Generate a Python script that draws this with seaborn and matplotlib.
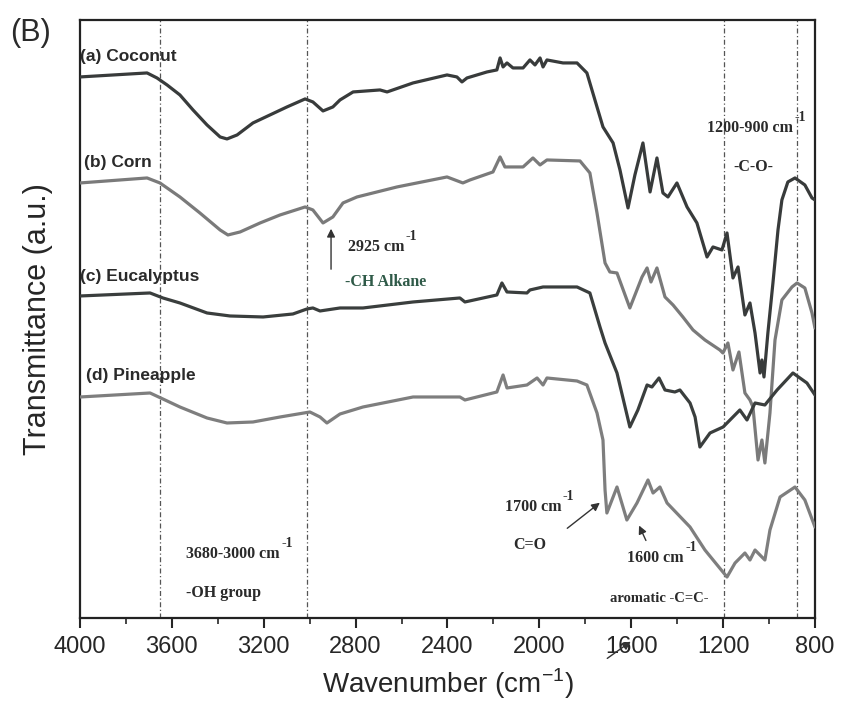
import pandas as pd
import matplotlib
matplotlib.use("Agg")
import matplotlib.pyplot as plt
import seaborn as sns

# FTIR spectra (wavenumber in cm-1, transmittance in a.u.)
coconut_wn = [4000, 3708, 3665, 3621, 3565, 3508, 3447, 3390, 3360, 3316, 3247, 3173, 3099, 3020,
              2986, 2942, 2899, 2868, 2811, 2694, 2663, 2550, 2402, 2359, 2337, 2315, 2228, 2185,
              2171, 2158, 2141, 2115, 2071, 2041, 2019, 1997, 1984, 1967, 1897, 1836, 1793, 1749,
              1723, 1679, 1649, 1614, 1584, 1549, 1518, 1488, 1462, 1440, 1401, 1357, 1314, 1270,
              1244, 1205, 1183, 1157, 1135, 1105, 1083, 1061, 1039, 1031, 1022, 1005, 983, 961,
              944, 918, 887, 844, 813, 800]
coconut_t = [541, 545, 540, 533, 523, 508, 493, 481, 479, 483, 495, 503, 511, 519,
             516, 507, 511, 518, 526, 528, 526, 535, 543, 541, 536, 540, 546, 548,
             560, 551, 555, 550, 550, 558, 553, 560, 551, 558, 555, 555, 545, 511,
             491, 475, 448, 410, 443, 475, 426, 460, 425, 421, 435, 411, 395, 361,
             371, 368, 385, 340, 351, 303, 315, 285, 245, 258, 241, 285, 335, 388,
             418, 436, 440, 433, 420, 418]

corn_wn = [4000, 3708, 3652, 3565, 3478, 3390, 3356, 3303, 3216, 3129, 3020, 2986, 2942, 2899,
           2855, 2794, 2620, 2402, 2333, 2302, 2202, 2171, 2150, 2071, 2028, 1997, 1967, 1823,
           1780, 1749, 1714, 1693, 1662, 1606, 1553, 1531, 1514, 1488, 1453, 1418, 1375, 1331,
           1279, 1214, 1201, 1179, 1157, 1131, 1105, 1083, 1070, 1048, 1031, 1018, 996, 974,
           944, 900, 878, 844, 813, 800]
corn_t = [435, 440, 435, 421, 405, 388, 383, 386, 395, 403, 411, 408, 395, 401,
          415, 421, 431, 441, 435, 438, 446, 461, 451, 451, 460, 453, 458, 457,
          445, 405, 355, 346, 345, 310, 341, 350, 336, 350, 321, 313, 301, 288,
          278, 268, 265, 275, 248, 266, 225, 218, 211, 158, 178, 155, 205, 278,
          318, 331, 335, 330, 305, 290]

eucalyptus_wn = [4000, 3695, 3639, 3565, 3447, 3347, 3203, 3073, 3012, 2986, 2955, 2868, 2768,
                 2550, 2346, 2324, 2185, 2163, 2141, 2054, 2041, 1984, 1836, 1780, 1736, 1714,
                 1662, 1606, 1571, 1531, 1510, 1479, 1453, 1410, 1388, 1344, 1322, 1301, 1257,
                 1200, 1127, 1096, 1061, 1018, 965, 896, 835, 800]
eucalyptus_t = [322, 325, 320, 315, 305, 302, 301, 304, 309, 310, 307, 310, 310,
                316, 320, 316, 323, 335, 326, 325, 328, 331, 331, 325, 291, 275,
                245, 191, 208, 233, 231, 240, 228, 226, 228, 215, 201, 171, 185,
                191, 208, 198, 215, 213, 228, 245, 235, 223]

pineapple_wn = [4000, 3695, 3639, 3565, 3447, 3360, 3247, 3129, 2999, 2955, 2925, 2868, 2768,
                2550, 2346, 2324, 2185, 2158, 2141, 2054, 2010, 1984, 1967, 1836, 1793, 1749,
                1723, 1714, 1706, 1662, 1619, 1575, 1527, 1505, 1475, 1444, 1344, 1279, 1183,
                1148, 1105, 1083, 1061, 1018, 996, 952, 887, 844, 800]
pineapple_t = [221, 225, 219, 211, 200, 195, 196, 201, 206, 201, 195, 204, 211,
               221, 221, 218, 226, 243, 230, 233, 240, 233, 240, 237, 233, 205,
               178, 128, 105, 131, 98, 115, 138, 125, 131, 115, 91, 68, 41,
               55, 65, 58, 68, 58, 88, 121, 131, 118, 91]

samples = ["(a) Coconut", "(b) Corn", "(c) Eucalyptus", "(d) Pineapple"]
colors = ["#383b3b", "#7a7a7a", "#3a3e3d", "#7e7e7e"]
label_pos = [(3998, 561), (3983, 455), (3998, 341), (3974, 242)]
guide_lines = [3650, 3010, 1195, 880]

frames = []
for name, wn, t in zip(samples,
                       [coconut_wn, corn_wn, eucalyptus_wn, pineapple_wn],
                       [coconut_t, corn_t, eucalyptus_t, pineapple_t]):
    frames.append(pd.DataFrame({"wn": wn, "T": t, "sample": name}))
df = pd.concat(frames, ignore_index=True)

sns.set_style("white")
plt.rcParams["font.family"] = ["Liberation Sans", "DejaVu Sans"]

fig = plt.figure(figsize=(8.44, 7.12), dpi=100)
ax = fig.add_axes([0.0948, 0.132, 0.8708, 0.840])

for x in guide_lines:
    ax.axvline(x, color="#555555", lw=0.9, ls=(0, (4, 2, 1, 2)), zorder=1)

sns.lineplot(data=df, x="wn", y="T", hue="sample", palette=dict(zip(samples, colors)),
             sort=False, estimator=None, legend=False, lw=2.3, ax=ax, zorder=3)

ax.set_xlim(4000, 800)
ax.set_ylim(0, 598)
ax.set_xticks([4000, 3600, 3200, 2800, 2400, 2000, 1600, 1200, 800])
ax.set_xticks(range(800, 4001, 200), minor=True)
ax.set_yticks([])
ax.tick_params(axis="x", which="major", direction="out", length=7, width=1.5,
               labelsize=17, pad=6, bottom=True)
ax.tick_params(axis="x", which="minor", direction="out", length=4, width=1.2, bottom=True)
for s in ax.spines.values():
    s.set_linewidth(1.6)
    s.set_color("#222222")

ax.set_xlabel("Wavenumber (cm$^{\\mathregular{-1}}$)", fontsize=20, labelpad=6)
ax.set_ylabel("Transmittance (a.u.)", fontsize=22)
ax.yaxis.set_label_coords(-0.037, 0.5)

for name, (x, y) in zip(samples, label_pos):
    ax.text(x, y, name, fontsize=12.5, fontweight="bold", va="center", ha="left",
            color="#2a2a2a", zorder=4)

serif = dict(fontfamily="Liberation Serif", fontweight="bold", fontsize=11.5,
             color="#2a2a2a", va="center", ha="left")


def with_sup(x, y, text):
    t = ax.text(x, y, text, **serif)
    ax.annotate("-1", xy=(1, 1), xycoords=t, xytext=(1, -3), textcoords="offset points",
                fontfamily="Liberation Serif", fontweight="bold", fontsize=10,
                color="#2a2a2a", ha="left", va="bottom")


with_sup(2833, 371, "2925 cm")
with_sup(1270, 490, "1200-900 cm")
with_sup(3538, 64, "3680-3000 cm")
with_sup(2150, 111, "1700 cm")
with_sup(1618, 60, "1600 cm")
ax.text(2846, 336, "-CH Alkane", **{**serif, "color": "#2f5a48"})
ax.text(1157, 451, "-C-O-", **serif)
ax.text(3538, 25, "-OH group", **serif)
ax.text(2115, 73, "C=O", **serif)
ax.text(1692, 20, "aromatic -C=C-", **{**serif, "fontsize": 10.5})

arrow = dict(arrowstyle="-|>", color="#333333", lw=1.0, mutation_scale=12)
ax.annotate("", xy=(2907, 392), xytext=(2907, 346), arrowprops=arrow)
ax.annotate("", xy=(1727, 117), xytext=(1888, 88), arrowprops=arrow)
ax.annotate("", xy=(1571, 95), xytext=(1531, 75), arrowprops=arrow)
ax.annotate("", xy=(633, 72), xytext=(605, 52), xycoords="figure pixels",
            textcoords="figure pixels", arrowprops=arrow, annotation_clip=False)

fig.text(30 / 844, 1 - 33 / 712, "(B)", fontsize=22, ha="center", va="center",
         color="#2a2a2a")

fig.savefig("out.png", dpi=100)
